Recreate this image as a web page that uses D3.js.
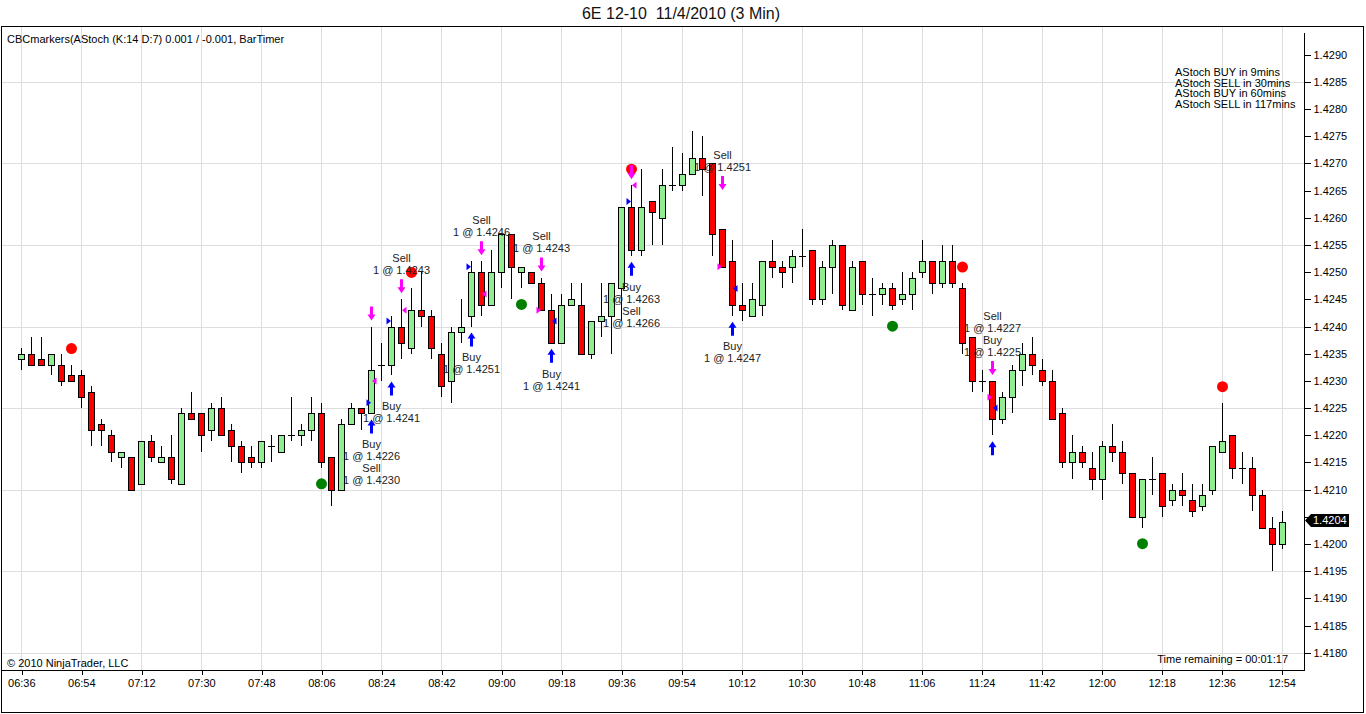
<!DOCTYPE html>
<html>
<head>
<meta charset="utf-8">
<script src="https://cdn.jsdelivr.net/npm/d3@7"></script>
<style>
body { margin: 0; background: #fff; }
svg { display: block; }
text { font-family: "Liberation Sans", Arial, sans-serif; }
</style>
</head>
<body>
<svg id="chart" width="1366" height="714"></svg>
<script>
// 6E 12-10, 3 minute bars, 11/4/2010
var chartTitle = "6E 12-10  11/4/2010 (3 Min)";
var sessionStart = "2010-11-04 06:36";
var barMinutes = 3;
var timeTicks = ["06:36","06:54","07:12","07:30","07:48","08:06","08:24","08:42","09:00","09:18","09:36",
  "09:54","10:12","10:30","10:48","11:06","11:24","11:42","12:00","12:18","12:36","12:54"];

var opens = [1.4234,1.4235,1.4234,1.4233,1.4233,1.4231,1.4231,1.4228,1.4222,1.4220,
  1.4216,1.4216,1.4211,1.4219,1.4215,1.4216,1.4211,1.4224,1.4224,1.4221,
  1.4225,1.4221,1.4218,1.4216,1.4215,1.4218,1.4217,1.4220,1.4220,1.4221,
  1.4224,1.4216,1.4210,1.4222,1.4225,1.4224,1.4233,1.4233,1.4240,1.4236,
  1.4243,1.4242,1.4235,1.4230,1.4239,1.4242,1.4250,1.4244,1.4250,1.4257,
  1.4250,1.4250,1.4248,1.4243,1.4237,1.4244,1.4244,1.4235,1.4241,1.4242,
  1.4247,1.4262,1.4254,1.4263,1.4260,1.4266,1.4266,1.4268,1.4271,1.4270,
  1.4258,1.4252,1.4244,1.4242,1.4244,1.4252,1.4251,1.4251,1.4253,1.4254,
  1.4245,1.4251,1.4255,1.4243,1.4252,1.4246,1.4246,1.4247,1.4245,1.4246,
  1.4250,1.4252,1.4248,1.4252,1.4247,1.4238,1.4230,1.4230,1.4223,1.4227,
  1.4232,1.4235,1.4232,1.4230,1.4224,1.4215,1.4217,1.4214,1.4212,1.4218,
  1.4217,1.4213,1.4205,1.4212,1.4213,1.4208,1.4210,1.4208,1.4207,1.4210,
  1.4217,1.4220,1.4214,1.4214,1.4209,1.4203,1.4200];
var highs = [1.4236,1.4238,1.4238,1.4235,1.4235,1.4233,1.4232,1.4229,1.4223,1.4221,
  1.4217,1.4216,1.4219,1.4220,1.4218,1.4220,1.4225,1.4228,1.4224,1.4226,
  1.4227,1.4222,1.4219,1.4218,1.4219,1.4220,1.4220,1.4227,1.4222,1.4227,
  1.4226,1.4216,1.4223,1.4226,1.4225,1.4240,1.4237,1.4242,1.4245,1.4247,
  1.4250,1.4243,1.4237,1.4240,1.4245,1.4252,1.4252,1.4254,1.4257,1.4257,
  1.4251,1.4250,1.4249,1.4246,1.4246,1.4248,1.4248,1.4241,1.4248,1.4248,
  1.4262,1.4266,1.4269,1.4263,1.4269,1.4273,1.4272,1.4276,1.4275,1.4270,
  1.4258,1.4256,1.4248,1.4248,1.4252,1.4256,1.4252,1.4254,1.4258,1.4254,
  1.4252,1.4256,1.4255,1.4252,1.4252,1.4249,1.4248,1.4248,1.4250,1.4250,
  1.4256,1.4252,1.4255,1.4255,1.4248,1.4238,1.4232,1.4230,1.4228,1.4233,
  1.4237,1.4238,1.4234,1.4232,1.4225,1.4220,1.4218,1.4217,1.4219,1.4222,
  1.4219,1.4213,1.4212,1.4216,1.4213,1.4211,1.4213,1.4211,1.4211,1.4218,
  1.4226,1.4220,1.4217,1.4216,1.4210,1.4205,1.4206];
var lows = [1.4232,1.4233,1.4233,1.4231,1.4229,1.4230,1.4225,1.4218,1.4218,1.4215,
  1.4214,1.4210,1.4211,1.4215,1.4215,1.4211,1.4211,1.4223,1.4217,1.4219,
  1.4220,1.4215,1.4213,1.4214,1.4214,1.4215,1.4217,1.4219,1.4218,1.4219,
  1.4214,1.4207,1.4210,1.4222,1.4221,1.4224,1.4230,1.4231,1.4234,1.4235,
  1.4240,1.4234,1.4227,1.4226,1.4237,1.4240,1.4242,1.4244,1.4247,1.4245,
  1.4247,1.4248,1.4243,1.4237,1.4237,1.4244,1.4235,1.4234,1.4238,1.4235,
  1.4241,1.4253,1.4253,1.4255,1.4255,1.4265,1.4265,1.4268,1.4264,1.4253,
  1.4251,1.4242,1.4241,1.4242,1.4242,1.4249,1.4247,1.4248,1.4251,1.4244,
  1.4244,1.4246,1.4243,1.4243,1.4244,1.4242,1.4244,1.4243,1.4244,1.4243,
  1.4249,1.4246,1.4247,1.4247,1.4235,1.4228,1.4228,1.4220,1.4222,1.4224,
  1.4229,1.4231,1.4229,1.4223,1.4214,1.4212,1.4214,1.4210,1.4208,1.4215,
  1.4211,1.4205,1.4203,1.4209,1.4205,1.4207,1.4207,1.4205,1.4206,1.4209,
  1.4217,1.4212,1.4211,1.4206,1.4203,1.4195,1.4199];
var closes = [1.4235,1.4233,1.4233,1.4235,1.4230,1.4230,1.4227,1.4221,1.4221,1.4217,
  1.4217,1.4210,1.4219,1.4216,1.4216,1.4212,1.4224,1.4223,1.4220,1.4225,
  1.4220,1.4218,1.4215,1.4215,1.4219,1.4218,1.4220,1.4220,1.4221,1.4224,
  1.4215,1.4210,1.4222,1.4225,1.4224,1.4232,1.4233,1.4240,1.4237,1.4243,
  1.4242,1.4236,1.4229,1.4239,1.4240,1.4250,1.4244,1.4250,1.4257,1.4251,
  1.4251,1.4248,1.4243,1.4237,1.4244,1.4245,1.4235,1.4241,1.4242,1.4248,
  1.4262,1.4254,1.4262,1.4261,1.4266,1.4266,1.4268,1.4271,1.4269,1.4257,
  1.4251,1.4244,1.4243,1.4245,1.4252,1.4251,1.4250,1.4253,1.4253,1.4245,
  1.4251,1.4255,1.4244,1.4251,1.4246,1.4246,1.4247,1.4244,1.4246,1.4249,
  1.4252,1.4248,1.4252,1.4248,1.4237,1.4230,1.4230,1.4223,1.4227,1.4232,
  1.4235,1.4233,1.4230,1.4223,1.4215,1.4217,1.4215,1.4212,1.4218,1.4217,
  1.4213,1.4205,1.4212,1.4212,1.4207,1.4210,1.4209,1.4206,1.4209,1.4218,
  1.4219,1.4214,1.4214,1.4209,1.4203,1.4200,1.4204];

var priceTicks = [1.4180,1.4185,1.4190,1.4195,1.4200,1.4205,1.4210,1.4215,1.4220,1.4225,1.4230,1.4235,
  1.4240,1.4245,1.4250,1.4255,1.4260,1.4265,1.4270,1.4275,1.4280,1.4285,1.4290];
var gridPrices = [1.4180,1.4195,1.4210,1.4225,1.4240,1.4255,1.4270,1.4285];

// AStoch turn markers (bar index)
var sellDots = [5,39,61,94,120];
var buyDots = [30,50,87,112];
// CBC arrows: [bar, price level]
var sellArrows = [[35,1.4240],[38,1.4245],[46,1.4252],[52,1.4249],[61,1.4266],[70,1.4264],[97,1.4230]];
var buyArrows = [[35,1.4224],[37,1.4231],[45,1.4240],[53,1.4237],[61,1.4253],[71,1.4242],[97,1.4220]];
// executions: [bar, action, fill price, entry/exit side]
var executions = [[35,"Buy",1.4226,"L"],[35,"Sell",1.4230,"R"],[37,"Buy",1.4241,"L"],[38,"Sell",1.4243,"R"],
  [45,"Buy",1.4251,"L"],[46,"Sell",1.4246,"R"],[52,"Sell",1.4243,"L"],[53,"Buy",1.4241,"R"],
  [61,"Buy",1.4263,"L"],[61,"Sell",1.4266,"R"],[70,"Sell",1.4251,"L"],[71,"Buy",1.4247,"R"],
  [97,"Sell",1.4227,"L"],[97,"Buy",1.4225,"R"]];
var labelsAbove = [38,46,52,70,97];

var indicatorLabel = "CBCmarkers(AStoch (K:14 D:7) 0.001 / -0.001, BarTimer";
var forecastLines = ["AStoch BUY in 9mins","AStoch SELL in 30mins","AStoch BUY in 60mins","AStoch SELL in 117mins"];
var copyright = "\u00a9 2010 NinjaTrader, LLC";
var timeRemaining = "Time remaining = 00:01:17";

var svg = d3.select("#chart");
var plotL = 1, plotR = 1304, plotT = 27, plotB = 670;

var parse = d3.timeParse("%Y-%m-%d %H:%M");
var t0 = parse(sessionStart);
var times = opens.map(function(d, i){ return d3.timeMinute.offset(t0, i * barMinutes); });
var tickTimes = timeTicks.map(function(s){ return parse("2010-11-04 " + s); });

var x = d3.scaleTime().domain([t0, times[times.length - 1]]).range([21.3, 1281.7]);
var y = d3.scaleLinear().domain([1.4180, 1.4290]).range([652.7, 54.7]);

var bars = opens.map(function(o, i){
  return {t: times[i], o: o, h: highs[i], l: lows[i], c: closes[i]};
});
function bx(i){ return Math.round(x(times[i])) + 0.5; }

var last = closes[closes.length - 1];
var ly = Math.round(y(last)) - 1.5;

// title
svg.append("text").attr("x", 681).attr("y", 13).attr("dy", "0.35em")
  .attr("text-anchor", "middle").style("font-size", "16px").style("white-space", "pre")
  .attr("fill", "#111").text(chartTitle);

// grid
var grid = svg.append("g").attr("shape-rendering", "crispEdges").attr("stroke", "#dedede");
grid.selectAll("line.v").data(tickTimes).enter().append("line")
  .attr("x1", function(d){ return Math.round(x(d)) + 0.5; })
  .attr("x2", function(d){ return Math.round(x(d)) + 0.5; })
  .attr("y1", plotT).attr("y2", plotB);
grid.selectAll("line.h").data(gridPrices).enter().append("line")
  .attr("x1", plotL).attr("x2", plotR)
  .attr("y1", function(d){ return Math.round(y(d)) + 0.5; })
  .attr("y2", function(d){ return Math.round(y(d)) + 0.5; });

// frame
svg.append("rect").attr("x", 1.5).attr("y", 26.5).attr("width", 1362).attr("height", 686)
  .attr("fill", "none").attr("stroke", "#000").attr("shape-rendering", "crispEdges");
svg.append("line").attr("x1", plotR + 0.5).attr("x2", plotR + 0.5).attr("y1", 33).attr("y2", plotB + 0.5)
  .attr("stroke", "#000").attr("shape-rendering", "crispEdges");
svg.append("line").attr("x1", plotL).attr("x2", plotR + 0.5).attr("y1", plotB + 0.5).attr("y2", plotB + 0.5)
  .attr("stroke", "#000").attr("shape-rendering", "crispEdges");

// axes
var yAxis = d3.axisRight(y).tickValues(priceTicks).tickFormat(d3.format(".4f")).tickSize(6).tickPadding(3);
var gy = svg.append("g").attr("transform", "translate(" + (plotR + 0.5) + ",0)").call(yAxis);
gy.select(".domain").remove();
// the last-price marker covers the label it lands on
gy.selectAll(".tick text").filter(function(d){ return Math.abs(y(d) - ly) < 8; }).remove();
var xAxis = d3.axisBottom(x).tickValues(tickTimes).tickFormat(d3.timeFormat("%H:%M")).tickSize(4).tickPadding(5);
var gx = svg.append("g").attr("transform", "translate(0," + (plotB + 0.5) + ")").call(xAxis);
gx.select(".domain").remove();
[gx, gy].forEach(function(g){
  g.selectAll("text").style("font-size", "11px").style("font-family", "'Liberation Sans', Arial, sans-serif").attr("fill", "#000");
  g.selectAll("line").attr("stroke", "#000").attr("shape-rendering", "crispEdges");
});
gx.selectAll(".tick line").attr("transform", "translate(0.5,0)");

// candles
var cg = svg.append("g").attr("shape-rendering", "crispEdges");
cg.selectAll("line.wick").data(bars).enter().append("line")
  .attr("x1", function(d, i){ return bx(i); }).attr("x2", function(d, i){ return bx(i); })
  .attr("y1", function(d){ return Math.round(y(d.h)); })
  .attr("y2", function(d){ return Math.round(y(d.l)); })
  .attr("stroke", "#000");
cg.selectAll("rect.body").data(bars.filter(function(d){ return d.o !== d.c; })).enter().append("rect")
  .attr("x", function(d){ return Math.round(x(d.t)) - 2.5; })
  .attr("width", 6)
  .attr("y", function(d){ return Math.round(y(Math.max(d.o, d.c))) + 0.5; })
  .attr("height", function(d){ return Math.round(y(Math.min(d.o, d.c))) - Math.round(y(Math.max(d.o, d.c))); })
  .attr("fill", function(d){ return d.c > d.o ? "#90ee90" : "#ff0000"; })
  .attr("stroke", "#000");
cg.selectAll("line.doji").data(bars.filter(function(d){ return d.o === d.c; })).enter().append("line")
  .attr("x1", function(d){ return Math.round(x(d.t)) - 3; })
  .attr("x2", function(d){ return Math.round(x(d.t)) + 4; })
  .attr("y1", function(d){ return Math.round(y(d.o)) + 0.5; })
  .attr("y2", function(d){ return Math.round(y(d.o)) + 0.5; })
  .attr("stroke", "#000");

// AStoch dots
svg.append("g").selectAll("circle").data(sellDots).enter().append("circle")
  .attr("cx", function(i){ return bx(i); }).attr("cy", function(i){ return y(highs[i]) - 16; })
  .attr("r", 5.5).attr("fill", "#ff0000");
svg.append("g").selectAll("circle").data(buyDots).enter().append("circle")
  .attr("cx", function(i){ return bx(i); }).attr("cy", function(i){ return y(lows[i]) + 16; })
  .attr("r", 5.5).attr("fill", "#008000");

// CBC arrows
var downArrow = "M-1.5,-14 L1.5,-14 L1.5,-6 L4,-6 L0,0 L-4,-6 L-1.5,-6 Z";
var upArrow = "M-1.5,14 L1.5,14 L1.5,6 L4,6 L0,0 L-4,6 L-1.5,6 Z";
svg.append("g").selectAll("path").data(sellArrows).enter().append("path")
  .attr("transform", function(d){ return "translate(" + bx(d[0]) + "," + (y(d[1]) - 6) + ")"; })
  .attr("d", downArrow).attr("fill", "#ff00ff");
svg.append("g").selectAll("path").data(buyArrows).enter().append("path")
  .attr("transform", function(d){ return "translate(" + bx(d[0]) + "," + (y(d[1]) + 6) + ")"; })
  .attr("d", upArrow).attr("fill", "#0000ff");

// execution triangles
svg.append("g").selectAll("path").data(executions).enter().append("path")
  .attr("transform", function(d){
    var dx = d[3] === "L" ? -3 : 3;
    return "translate(" + (bx(d[0]) + dx) + "," + y(d[2]) + ")";
  })
  .attr("d", function(d){ return d[3] === "L" ? "M-2,-3.5 L2.5,0 L-2,3.5 Z" : "M2,-3.5 L-2.5,0 L2,3.5 Z"; })
  .attr("fill", function(d){ return d[1] === "Buy" ? "#0000ff" : "#ff00ff"; });

// execution labels
var execBars = d3.groups(executions, function(d){ return d[0]; });
var lg = svg.append("g").style("font-size", "11px").attr("fill", "#222").attr("text-anchor", "middle");
execBars.forEach(function(grp){
  var bar = grp[0], lines = [];
  grp[1].forEach(function(e){ lines.push(e[1]); lines.push("1 @ " + d3.format(".4f")(e[2])); });
  var startY;
  if (labelsAbove.indexOf(bar) >= 0) {
    var sa = sellArrows.find(function(a){ return a[0] === bar; });
    startY = y(sa[1]) - 29 - (lines.length - 1) * 12;
  } else {
    var ba = buyArrows.find(function(a){ return a[0] === bar; });
    startY = y(ba[1]) + 31;
  }
  lines.forEach(function(s, k){
    lg.append("text").attr("x", bx(bar)).attr("y", startY + k * 12).attr("dy", "0.35em").text(s);
  });
});

// price marker
svg.append("path")
  .attr("d", "M" + (plotR + 1) + "," + ly + " L" + (plotR + 7) + "," + (ly - 6.5) + " L1349," + (ly - 6.5) +
    " L1349," + (ly + 6.5) + " L" + (plotR + 7) + "," + (ly + 6.5) + " Z")
  .attr("fill", "#000");
svg.append("text").attr("x", plotR + 9).attr("y", ly).attr("dy", "0.35em")
  .style("font-size", "11px").attr("fill", "#fff").text(d3.format(".4f")(last));

// texts
svg.append("text").attr("x", 7).attr("y", 39).attr("dy", "0.35em").style("font-size", "11px")
  .attr("fill", "#000").text(indicatorLabel);
svg.append("g").selectAll("text").data(forecastLines).enter().append("text")
  .attr("x", 1175).attr("y", function(d, i){ return 72.5 + i * 10.4; }).attr("dy", "0.35em")
  .style("font-size", "11px").attr("fill", "#000").text(function(d){ return d; });
svg.append("text").attr("x", 7).attr("y", 663).attr("dy", "0.35em").style("font-size", "11px")
  .attr("fill", "#000").text(copyright);
svg.append("text").attr("x", 1288).attr("y", 659).attr("dy", "0.35em").attr("text-anchor", "end")
  .style("font-size", "11px").attr("fill", "#000").text(timeRemaining);
</script>
</body>
</html>
